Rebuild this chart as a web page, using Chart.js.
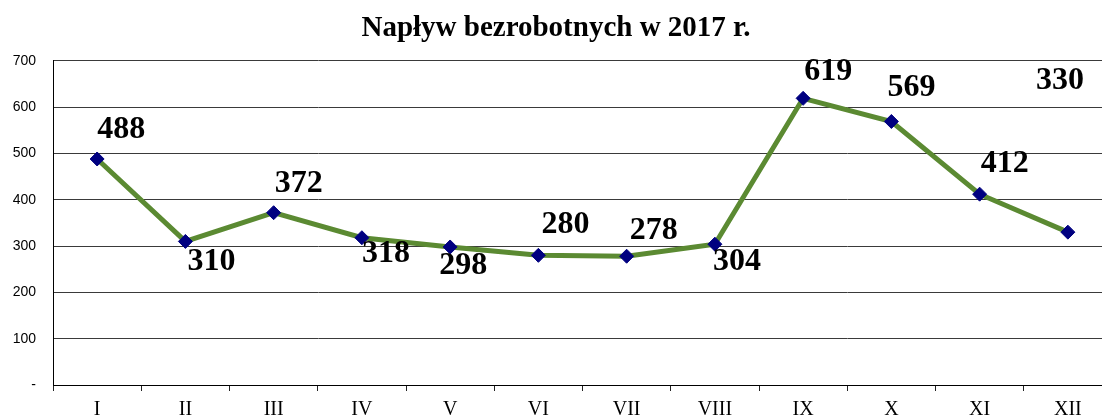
<!DOCTYPE html>
<html>
<head>
<meta charset="utf-8">
<script src="https://cdn.jsdelivr.net/npm/chart.js@4/dist/chart.umd.min.js"></script>
<style>
  html, body { margin: 0; padding: 0; background: #fff; overflow: hidden; }
  #wrap { width: 1202px; height: 419px; }
</style>
</head>
<body>
<div id="wrap"><canvas id="inflowChart"></canvas></div>
<script>
// values
const months = ['I', 'II', 'III', 'IV', 'V', 'VI', 'VII', 'VIII', 'IX', 'X', 'XI', 'XII'];
const inflow = [488, 310, 372, 318, 298, 280, 278, 304, 619, 569, 412, 330];
const yTicks = [0, 100, 200, 300, 400, 500, 600, 700];
const chartTitle = 'Napływ bezrobotnych w 2017 r.';

// where each value label sits relative to its point (px)
const labelShift = [
  [24, -29], [26, 20], [25, -29], [24, 16], [13, 19], [27, -31],
  [27, -26], [22, 18], [25, -27], [20, -34], [25, -30], [-8, -151]
];

const valueLabels = {
  id: 'valueLabels',
  afterDatasetsDraw(chart) {
    const meta = chart.getDatasetMeta(0);
    const c = chart.ctx;
    c.save();
    c.font = 'bold 32px "Liberation Serif", "Times New Roman", serif';
    c.fillStyle = '#000';
    c.textAlign = 'center';
    c.textBaseline = 'middle';
    meta.data.forEach((pt, i) => {
      const [dx, dy] = labelShift[i];
      c.fillText(String(inflow[i]), pt.x + dx, pt.y + dy);
    });
    c.restore();
  }
};

const ctx = document.getElementById('inflowChart').getContext('2d');

new Chart(ctx, {
  type: 'line',
  data: {
    labels: months,
    datasets: [{
      data: inflow,
      borderColor: '#5b8a32',
      borderWidth: 5,
      tension: 0,
      fill: false,
      pointStyle: 'rectRot',
      pointRadius: 7,
      pointBackgroundColor: '#000080',
      pointBorderColor: '#000080',
      pointBorderWidth: 1
    }]
  },
  options: {
    responsive: true,
    maintainAspectRatio: false,
    animation: false,
    layout: { padding: { left: 0, right: 90, top: 0, bottom: 0 } },
    plugins: {
      legend: { display: false },
      tooltip: { enabled: false },
      title: {
        display: true,
        text: chartTitle,
        color: '#000',
        font: { family: '"Liberation Serif", "Times New Roman", serif', size: 29, weight: 'bold' },
        padding: { top: 11, bottom: 15 }
      }
    },
    scales: {
      x: {
        offset: true,
        grid: {
          offset: true,
          drawOnChartArea: false,
          drawTicks: true,
          tickLength: 6,
          color: '#222'
        },
        border: { color: '#000', width: 1 },
        ticks: {
          color: '#000',
          padding: 7,
          maxRotation: 0,
          font: { family: '"Liberation Serif", "Times New Roman", serif', size: 20 }
        },
        afterFit(scale) { scale.height = 34; }
      },
      y: {
        min: 0,
        max: 700,
        afterBuildTicks(scale) { scale.ticks = yTicks.map(v => ({ value: v })); },
        grid: { color: '#3a3a3a', lineWidth: 1, drawTicks: false },
        border: { color: '#000', width: 1 },
        ticks: {
          color: '#000',
          padding: 17,
          font: { family: '"Liberation Sans", Arial, sans-serif', size: 14 },
          callback: function(value) {
            return value === 0 ? '-' : value;
          }
        },
        afterFit(scale) { scale.width = 53; }
      }
    }
  },
  plugins: [valueLabels]
});
</script>
</body>
</html>
